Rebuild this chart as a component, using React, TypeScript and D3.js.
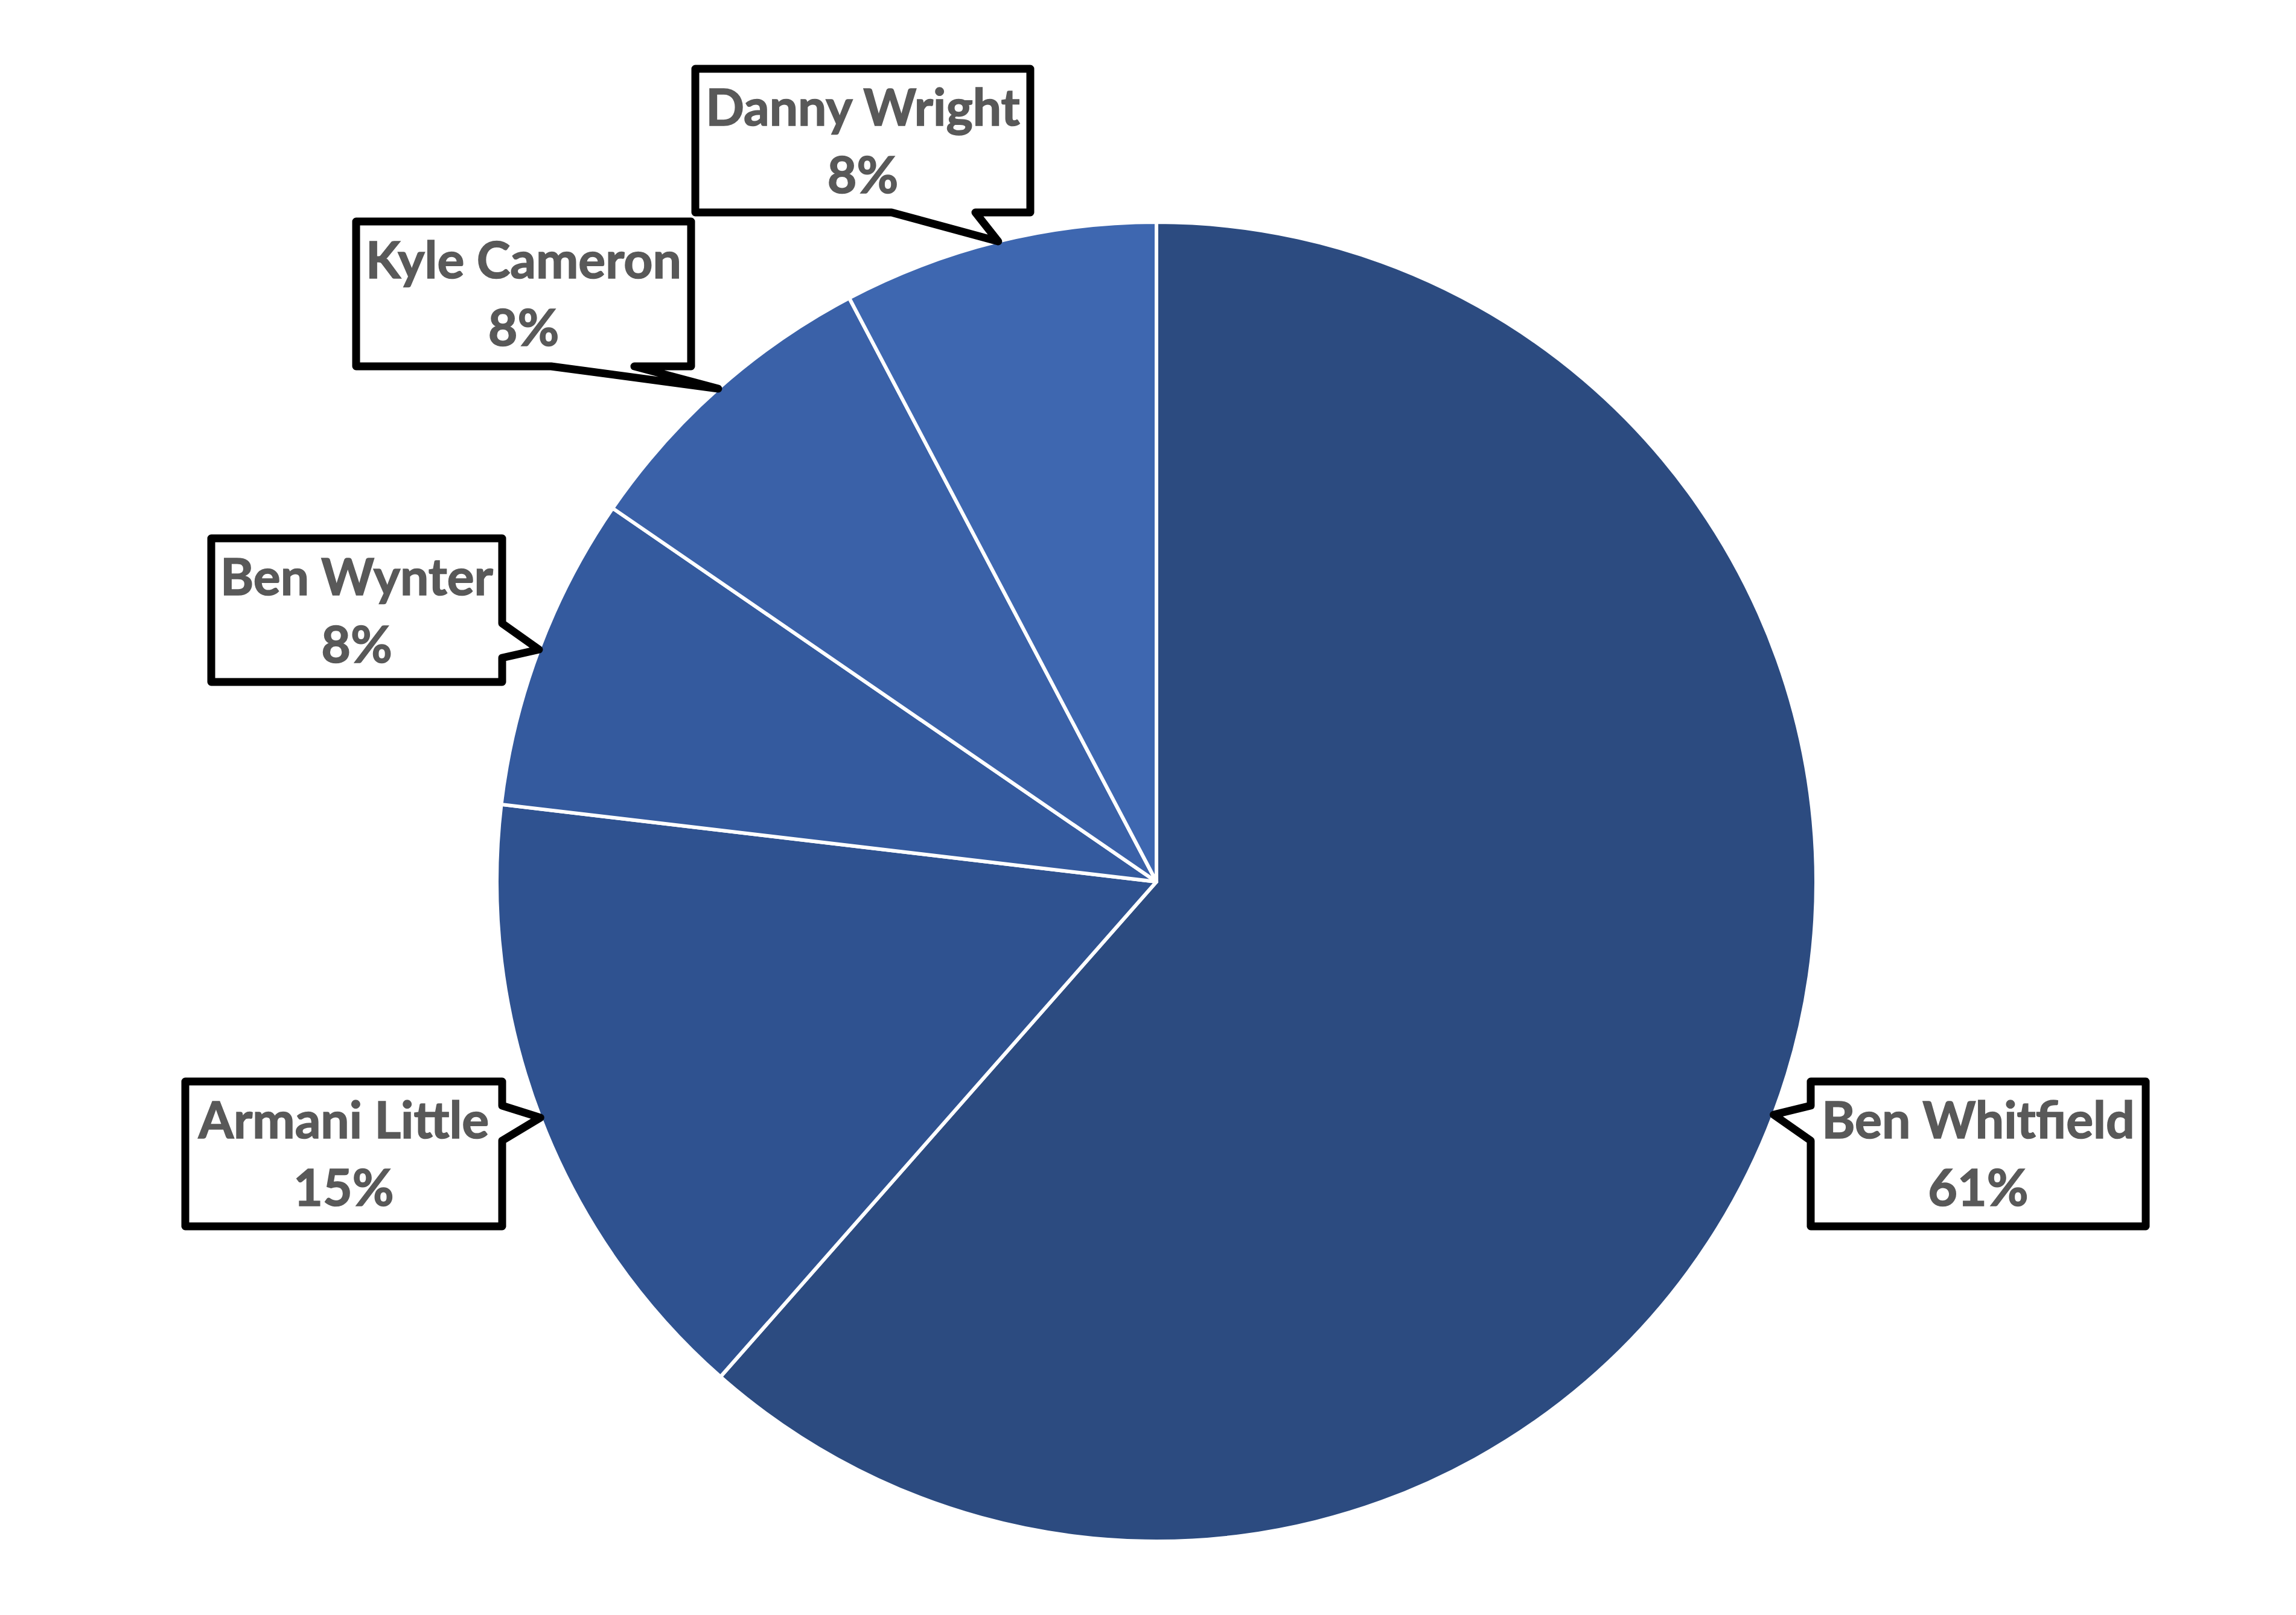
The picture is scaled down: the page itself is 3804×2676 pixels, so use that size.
import React from "react";
import * as d3 from "d3";

const W = 3804;
const H = 2676;

// Data
const names = ["Ben Whitfield", "Armani Little", "Ben Wynter", "Kyle Cameron", "Danny Wright"];
const values = [61.49, 15.38, 7.71, 7.71, 7.71];
const colors = ["#2C4B80", "#2F5290", "#345A9E", "#3A61A8", "#3E67B0"];

// Callout box layout (stroke-centre coordinates) and pointer base
type Side = "left" | "right" | "bottom";
const boxes: { x0: number; y0: number; x1: number; y1: number; side: Side; a: number; b: number }[] = [
  { x0: 3000, y0: 1792, x1: 3555, y1: 2032, side: "left", a: 1832, b: 1890 },
  { x0: 307, y0: 1792, x1: 832, y1: 2032, side: "right", a: 1832, b: 1890 },
  { x0: 350, y0: 892, x1: 832, y1: 1130, side: "right", a: 1033, b: 1090 },
  { x0: 590, y0: 367, x1: 1145, y1: 607, side: "bottom", a: 913, b: 1051 },
  { x0: 1152, y0: 114, x1: 1707, y1: 352, side: "bottom", a: 1477, b: 1616 },
];

const cx = 1916;
const cy = 1461;
const R = 1093;

function calloutPath(bx: (typeof boxes)[number], tx: number, ty: number) {
  const { x0, y0, x1, y1, side, a, b } = bx;
  if (side === "bottom") {
    return `M${x0},${y0}H${x1}V${y1}H${b}L${tx},${ty}L${a},${y1}H${x0}Z`;
  }
  if (side === "right") {
    return `M${x0},${y0}H${x1}V${a}L${tx},${ty}L${x1},${b}V${y1}H${x0}Z`;
  }
  return `M${x0},${y0}H${x1}V${y1}H${x0}V${b}L${tx},${ty}L${x0},${a}Z`;
}

export default function App() {
  const total = d3.sum(values);
  const pct = d3.format(".0%");
  const pie = d3
    .pie<number>()
    .sort(null)
    .value((d) => d)
    .startAngle(0)
    .endAngle(2 * Math.PI);
  const arcs = pie(values);
  const arc = d3.arc<d3.PieArcDatum<number>>().innerRadius(0).outerRadius(R);
  const edge = d3.arc<d3.PieArcDatum<number>>().innerRadius(R).outerRadius(R);

  return (
    <svg
      width={W}
      height={H}
      viewBox={`0 0 ${W} ${H}`}
      style={{ position: "absolute", left: 0, top: 0, background: "#ffffff" }}
    >
      <rect x={0} y={0} width={W} height={H} fill="#ffffff" />
      <g transform={`translate(${cx},${cy})`}>
        {arcs.map((d, i) => (
          <path key={names[i]} d={arc(d) || ""} fill={colors[i]} stroke="#ffffff" strokeWidth={6} strokeLinejoin="round" />
        ))}
      </g>
      {arcs.map((d, i) => {
        const [ex, ey] = edge.centroid(d);
        const tx = cx + ex;
        const ty = cy + ey;
        const bx = boxes[i];
        const mx = (bx.x0 + bx.x1) / 2;
        return (
          <g key={"lab" + i}>
            <path
              d={calloutPath(bx, tx, ty)}
              fill="#ffffff"
              stroke="#000000"
              strokeWidth={13}
              strokeLinejoin="round"
            />
            <text
              x={mx}
              textAnchor="middle"
              fill="#595959"
              stroke="#595959"
              strokeWidth={1.6}
              fontFamily="Lato, 'Open Sans', sans-serif"
              fontWeight={700}
              fontSize={84}
            >
              <tspan x={mx} y={bx.y0 + 94}>
                {names[i]}
              </tspan>
              <tspan x={mx} y={bx.y0 + 206}>
                {pct(values[i] / total)}
              </tspan>
            </text>
          </g>
        );
      })}
    </svg>
  );
}
